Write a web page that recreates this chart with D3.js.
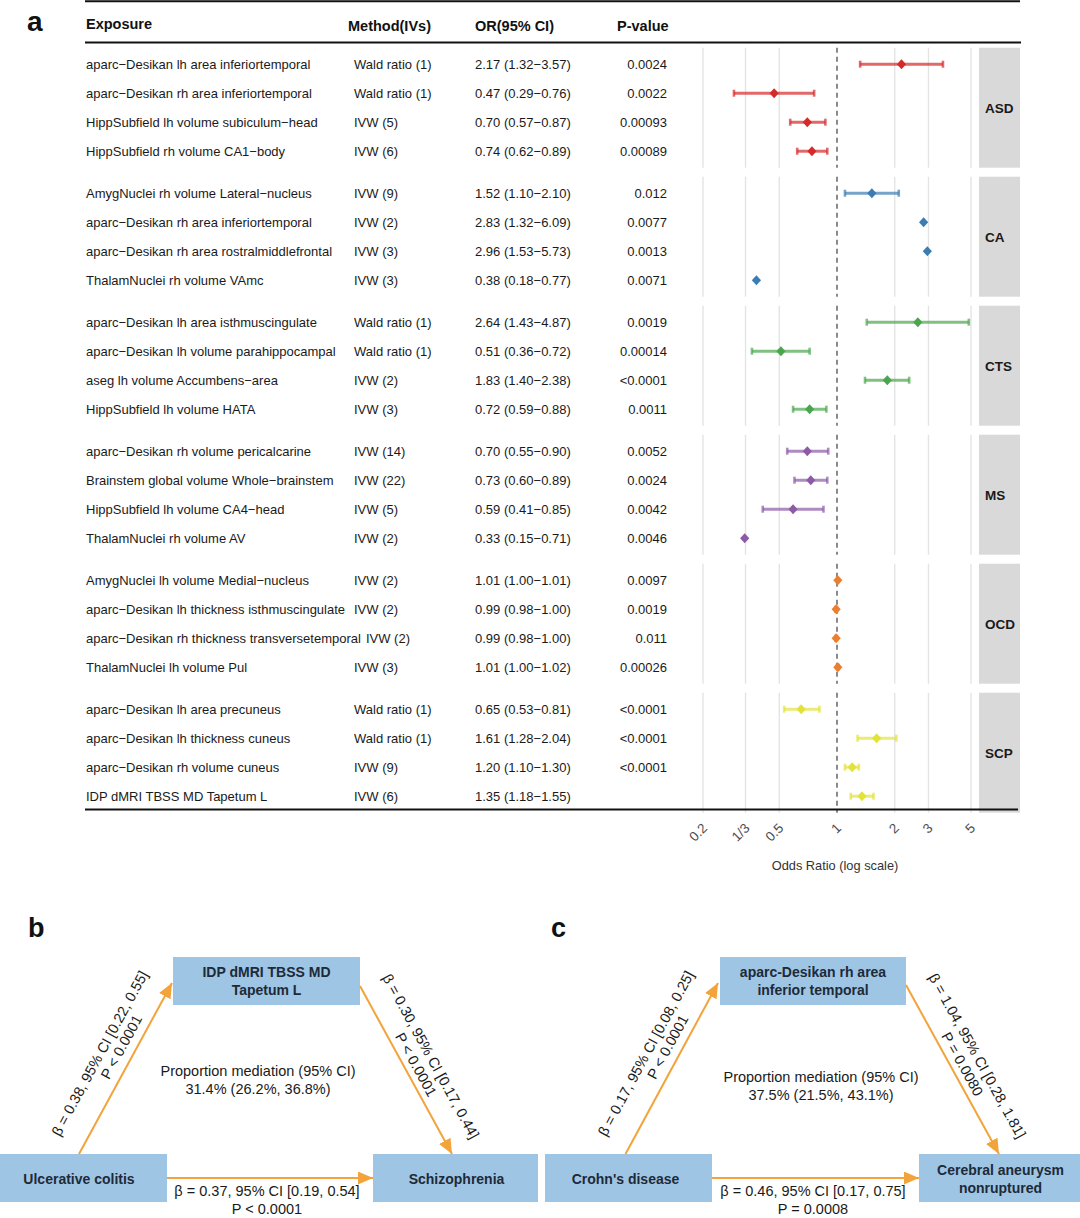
<!DOCTYPE html>
<html>
<head>
<meta charset="utf-8">
<title>MR forest plot and mediation</title>
<script src="https://d3js.org/d3.v7.min.js"></script>
<style>
  body { margin: 0; background: #fff; }
  text { font-family: "Liberation Sans", Arial, Helvetica, sans-serif; }
</style>
</head>
<body>
<script>
// ---- panel a data ----
var groups = ["ASD", "CA", "CTS", "MS", "OCD", "SCP"];
var exposures = [
  "aparc\u2212Desikan lh area inferiortemporal",
  "aparc\u2212Desikan rh area inferiortemporal",
  "HippSubfield lh volume subiculum\u2212head",
  "HippSubfield rh volume CA1\u2212body",
  "AmygNuclei rh volume Lateral\u2212nucleus",
  "aparc\u2212Desikan rh area inferiortemporal",
  "aparc\u2212Desikan rh area rostralmiddlefrontal",
  "ThalamNuclei rh volume VAmc",
  "aparc\u2212Desikan lh area isthmuscingulate",
  "aparc\u2212Desikan lh volume parahippocampal",
  "aseg lh volume Accumbens\u2212area",
  "HippSubfield lh volume HATA",
  "aparc\u2212Desikan rh volume pericalcarine",
  "Brainstem global volume Whole\u2212brainstem",
  "HippSubfield lh volume CA4\u2212head",
  "ThalamNuclei rh volume AV",
  "AmygNuclei lh volume Medial\u2212nucleus",
  "aparc\u2212Desikan lh thickness isthmuscingulate",
  "aparc\u2212Desikan rh thickness transversetemporal",
  "ThalamNuclei lh volume Pul",
  "aparc\u2212Desikan lh area precuneus",
  "aparc\u2212Desikan lh thickness cuneus",
  "aparc\u2212Desikan rh volume cuneus",
  "IDP dMRI TBSS MD Tapetum L"
];
var methods = [
  "Wald ratio (1)", "Wald ratio (1)", "IVW (5)", "IVW (6)",
  "IVW (9)", "IVW (2)", "IVW (3)", "IVW (3)",
  "Wald ratio (1)", "Wald ratio (1)", "IVW (2)", "IVW (3)",
  "IVW (14)", "IVW (22)", "IVW (5)", "IVW (2)",
  "IVW (2)", "IVW (2)", "IVW (2)", "IVW (3)",
  "Wald ratio (1)", "Wald ratio (1)", "IVW (9)", "IVW (6)"
];
var orVals  = [2.17, 0.47, 0.70, 0.74, 1.52, 2.83, 2.96, 0.38, 2.64, 0.51, 1.83, 0.72,
               0.70, 0.73, 0.59, 0.33, 1.01, 0.99, 0.99, 1.01, 0.65, 1.61, 1.20, 1.35];
var lowVals = [1.32, 0.29, 0.57, 0.62, 1.10, 1.32, 1.53, 0.18, 1.43, 0.36, 1.40, 0.59,
               0.55, 0.60, 0.41, 0.15, 1.00, 0.98, 0.98, 1.00, 0.53, 1.28, 1.10, 1.18];
var upVals  = [3.57, 0.76, 0.87, 0.89, 2.10, 6.09, 5.73, 0.77, 4.87, 0.72, 2.38, 0.88,
               0.90, 0.89, 0.85, 0.71, 1.01, 1.00, 1.00, 1.02, 0.81, 2.04, 1.30, 1.55];
var pVals = ["0.0024", "0.0022", "0.00093", "0.00089",
             "0.012", "0.0077", "0.0013", "0.0071",
             "0.0019", "0.00014", "<0.0001", "0.0011",
             "0.0052", "0.0024", "0.0042", "0.0046",
             "0.0097", "0.0019", "0.011", "0.00026",
             "<0.0001", "<0.0001", "<0.0001", ""];
var tickVals = [0.2, 1 / 3, 0.5, 1, 2, 3, 5];
var tickLabels = ["0.2", "1/3", "0.5", "1", "2", "3", "5"];
var groupColors = ["#d62a2a", "#3b7cb3", "#4aa64d", "#8c5aa6", "#ec7f2f", "#e2e23a"];

// ---- panels b / c data ----
var medExposure = [["Ulcerative colitis"], ["Crohn's disease"]];
var medMediator = [["IDP dMRI TBSS MD", "Tapetum L"], ["aparc-Desikan rh area", "inferior temporal"]];
var medOutcome  = [["Schizophrenia"], ["Cerebral aneurysm", "nonruptured"]];
var pathA  = [["\u03b2 = 0.38, 95% CI [0.22, 0.55]", "P < 0.0001"], ["\u03b2 = 0.17, 95% CI [0.08, 0.25]", "P < 0.0001"]];
var pathB  = [["\u03b2 = 0.30, 95% CI [0.17, 0.44]", "P < 0.0001"], ["\u03b2 = 1.04, 95% CI [0.28, 1.81]", "P = 0.0080"]];
var direct = [["\u03b2 = 0.37, 95% CI [0.19, 0.54]", "P < 0.0001"], ["\u03b2 = 0.46, 95% CI [0.17, 0.75]", "P = 0.0008"]];
var propMed = ["31.4% (26.2%, 36.8%)", "37.5% (21.5%, 43.1%)"];

var w = 1080, h = 1218;
var svg = d3.select("body").append("svg").attr("width", w).attr("height", h);

// ================= panel a =================
var x = d3.scaleLog().domain([0.2, 5]).range([703, 971]);
var yGroup = d3.scaleBand().domain(groups).range([47.7, 812.7]).paddingInner(9 / 129);
var yRow = d3.scalePoint().domain([0, 1, 2, 3]).range([16.5, yGroup.bandwidth() - 16.5]);
function rowY(i) { return yGroup(groups[Math.floor(i / 4)]) + yRow(i % 4); }

svg.append("text").attr("x", 27).attr("y", 31).attr("font-size", 28)
   .attr("font-weight", "bold").attr("fill", "#111").text("a");

svg.append("line").attr("x1", 85).attr("x2", 1020).attr("y1", 1.2).attr("y2", 1.2)
   .attr("stroke", "#111").attr("stroke-width", 2);
svg.append("line").attr("x1", 85).attr("x2", 1021).attr("y1", 42.5).attr("y2", 42.5)
   .attr("stroke", "#111").attr("stroke-width", 2);

var headers = [["Exposure", 86, 28.5], ["Method(IVs)", 348, 30.5], ["OR(95% CI)", 475, 30.5], ["P-value", 617, 30.5]];
svg.selectAll("text.hdr").data(headers).enter().append("text")
   .attr("class", "hdr").attr("x", d => d[1]).attr("y", d => d[2])
   .attr("font-size", 14.5).attr("font-weight", "bold").attr("fill", "#111")
   .text(d => d[0]);

// group panels: grid, reference line, strip
var gp = svg.selectAll("g.gp").data(groups).enter().append("g").attr("class", "gp")
   .attr("transform", d => "translate(0," + yGroup(d) + ")");
gp.selectAll("line.grid").data(tickVals.filter(t => t !== 1)).enter().append("line")
   .attr("class", "grid").attr("x1", d => x(d)).attr("x2", d => x(d))
   .attr("y1", 0).attr("y2", yGroup.bandwidth())
   .attr("stroke", "#e4e4e4").attr("stroke-width", 1.4);
gp.append("line").attr("x1", x(1)).attr("x2", x(1)).attr("y1", 0).attr("y2", yGroup.bandwidth())
   .attr("stroke", "#6e6e6e").attr("stroke-width", 1.6).attr("stroke-dasharray", "5,4");
gp.append("rect").attr("x", 979).attr("y", 0).attr("width", 41).attr("height", yGroup.bandwidth())
   .attr("fill", "#d9d9d9");
gp.append("text").attr("x", 985).attr("y", yGroup.bandwidth() / 2 + 5)
   .attr("font-size", 13.5).attr("font-weight", "bold").attr("fill", "#1a1a1a")
   .text(d => d);

// table rows
var rows = svg.selectAll("g.row").data(exposures).enter().append("g").attr("class", "row")
   .attr("transform", (d, i) => "translate(0," + (rowY(i) + 4.7) + ")");
rows.append("text").attr("class", "expo").attr("x", 86).attr("font-size", 13).attr("fill", "#1a1a1a")
   .text(d => d);
rows.each(function (d, i) {
  var g = d3.select(this);
  var len = g.select("text.expo").node().getComputedTextLength();
  g.append("text").attr("x", Math.max(354, 86 + len + 5)).attr("font-size", 13).attr("fill", "#1a1a1a")
   .text(methods[i]);
});
rows.append("text").attr("x", 475).attr("font-size", 13).attr("fill", "#1a1a1a")
   .text((d, i) => orVals[i].toFixed(2) + " (" + lowVals[i].toFixed(2) + "\u2212" + upVals[i].toFixed(2) + ")");
rows.append("text").attr("x", 667).attr("text-anchor", "end").attr("font-size", 13).attr("fill", "#1a1a1a")
   .text((d, i) => pVals[i]);

// error bars (dropped when the interval leaves the axis limits) and diamonds
var dom = x.domain();
var marks = svg.selectAll("g.mark").data(orVals).enter().append("g").attr("class", "mark")
   .attr("transform", (d, i) => "translate(0," + rowY(i) + ")");
marks.each(function (d, i) {
  var g = d3.select(this);
  var col = groupColors[Math.floor(i / 4)];
  if (lowVals[i] >= dom[0] && upVals[i] <= dom[1]) {
    g.append("line").attr("x1", x(lowVals[i])).attr("x2", x(upVals[i]))
     .attr("stroke", col).attr("stroke-opacity", 0.7).attr("stroke-width", 3);
    [lowVals[i], upVals[i]].forEach(function (v) {
      g.append("line").attr("x1", x(v)).attr("x2", x(v)).attr("y1", -3.5).attr("y2", 3.5)
       .attr("stroke", col).attr("stroke-opacity", 0.7).attr("stroke-width", 2.6);
    });
  }
  var cx = x(d);
  g.append("path").attr("d", "M" + cx + ",-5L" + (cx + 4.6) + ",0L" + cx + ",5L" + (cx - 4.6) + ",0Z")
   .attr("fill", col);
});

// bottom axis
svg.append("line").attr("x1", 85).attr("x2", 1018).attr("y1", 809.5).attr("y2", 809.5)
   .attr("stroke", "#111").attr("stroke-width", 1.8);
svg.selectAll("text.tick").data(tickVals).enter().append("text").attr("class", "tick")
   .attr("transform", d => "translate(" + (x(d) + 5) + ",829) rotate(-45)")
   .attr("text-anchor", "end").attr("font-size", 13.5).attr("fill", "#4d4d4d")
   .text((d, i) => tickLabels[i]);
svg.append("text").attr("x", x(1) - 2).attr("y", 870).attr("text-anchor", "middle")
   .attr("font-size", 12.8).attr("fill", "#333").text("Odds Ratio (log scale)");

// ================= panels b / c =================
var boxFill = "#9fc5e5", boxText = "#1d2a38", arrowCol = "#f2a33a";
var defs = svg.append("defs");
defs.append("marker").attr("id", "ah").attr("viewBox", "0 0 15 13")
   .attr("refX", 15).attr("refY", 6.5).attr("markerWidth", 15).attr("markerHeight", 13)
   .attr("markerUnits", "userSpaceOnUse").attr("orient", "auto")
   .append("path").attr("d", "M0,0L15,6.5L0,13Z").attr("fill", arrowCol);

var layouts = [
  { label: "b", lx: 28, left: [0, 167], top: [173, 360], right: [373, 538],
    a: [79, 1154, 172, 983], bb: [360, 986, 452, 1154], c: [167, 1178, 373, 1178],
    mid: [258, 1076], dir: 267 },
  { label: "c", lx: 551, left: [545, 712], top: [720, 906], right: [919, 1080],
    a: [625.5, 1154, 718, 983], bb: [906, 985, 999, 1154], c: [712, 1178, 919, 1178],
    mid: [821, 1082], dir: 813 }
];

function boxLines(lines, cx, cy) {
  var t = svg.append("text").attr("text-anchor", "middle").attr("font-size", 14)
     .attr("font-weight", "bold").attr("fill", boxText);
  var off = (lines.length - 1) * 18 / 2;
  lines.forEach(function (s, k) {
    t.append("tspan").attr("x", cx).attr("y", cy - off + k * 18 + 5).text(s);
  });
}

function arrowLabel(p, lines, along, perps) {
  var mx = (p[0] + p[2]) / 2, my = (p[1] + p[3]) / 2;
  var ang = Math.atan2(p[3] - p[1], p[2] - p[0]) * 180 / Math.PI;
  var g = svg.append("g").attr("transform", "translate(" + mx + "," + my + ") rotate(" + ang + ")");
  lines.forEach(function (s, k) {
    g.append("text").attr("x", along[k]).attr("y", -perps[k] + 5.2).attr("text-anchor", "middle")
     .attr("font-size", 14.5).attr("fill", "#1a1a1a").text(s);
  });
}

layouts.forEach(function (L, j) {
  svg.append("text").attr("x", L.lx).attr("y", 937).attr("font-size", 27)
     .attr("font-weight", "bold").attr("fill", "#111").text(L.label);
  [[L.top, 957], [L.left, 1154], [L.right, 1154]].forEach(function (b) {
    svg.append("rect").attr("x", b[0][0]).attr("y", b[1]).attr("width", b[0][1] - b[0][0])
       .attr("height", 48).attr("fill", boxFill);
  });
  boxLines(medMediator[j], (L.top[0] + L.top[1]) / 2, 981);
  boxLines(medExposure[j], L.a[0], 1178.5);
  boxLines(medOutcome[j], (L.right[0] + L.right[1]) / 2 + 1, 1178.5);

  [L.a, L.bb, L.c].forEach(function (p) {
    svg.append("line").attr("x1", p[0]).attr("y1", p[1]).attr("x2", p[2]).attr("y2", p[3])
       .attr("stroke", arrowCol).attr("stroke-width", 2).attr("marker-end", "url(#ah)");
  });

  arrowLabel(L.a, pathA[j], [1, 17], [30, 14]);
  arrowLabel(L.bb, pathB[j], [0, 0], [28.5, 11.5]);

  var mt = svg.append("text").attr("text-anchor", "middle").attr("font-size", 14.5).attr("fill", "#1a1a1a");
  mt.append("tspan").attr("x", L.mid[0]).attr("y", L.mid[1]).text("Proportion mediation (95% CI)");
  mt.append("tspan").attr("x", L.mid[0]).attr("y", L.mid[1] + 18).text(propMed[j]);

  var dt = svg.append("text").attr("text-anchor", "middle").attr("font-size", 14.5).attr("fill", "#1a1a1a");
  dt.append("tspan").attr("x", L.dir).attr("y", 1196).text(direct[j][0]);
  dt.append("tspan").attr("x", L.dir).attr("y", 1213.5).text(direct[j][1]);
});
</script>
</body>
</html>
